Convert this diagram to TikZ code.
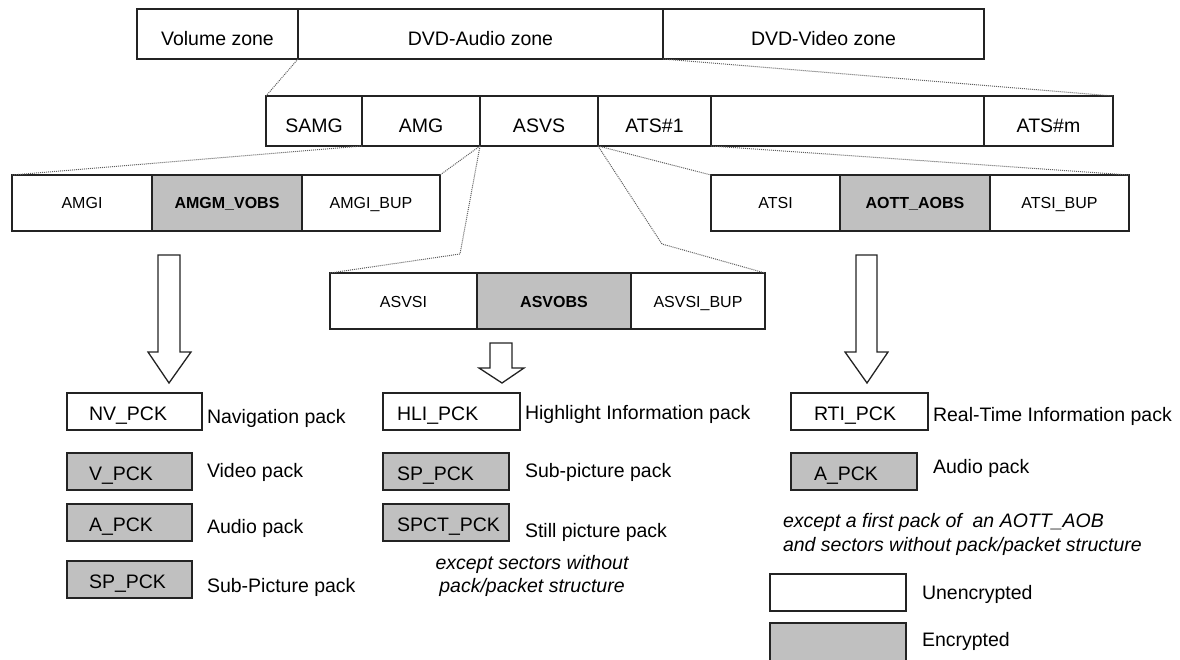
\documentclass[tikz,border=0pt]{standalone}
\usepackage{fontspec}
\setmainfont{Liberation Sans}
\usetikzlibrary{positioning}
\definecolor{encgray}{RGB}{192,192,192}
\definecolor{edge}{RGB}{35,35,35}
\definecolor{linkgray}{RGB}{95,95,95}

\begin{document}
\begin{tikzpicture}[x=1pt,y=-1pt,
  every node/.style={font=\fontsize{19.5}{23}\selectfont,inner sep=0pt,outer sep=0pt},
  cell/.style={draw=edge,line width=1.3pt,anchor=north west},
  zone/.style={cell,minimum height=50pt,text height=24pt,text depth=0pt},
  part/.style={cell,minimum height=56pt,text height=12pt,text depth=0pt,font=\fontsize{16}{19}\selectfont},
  encpart/.style={part,fill=encgray,font=\fontsize{16}{19}\selectfont\bfseries},
  pck/.style 2 args={cell,minimum height=37pt,text width=#1,align=left,
    text height=17pt,text depth=0pt,execute at begin node={\hspace*{#2}}},
  encfill/.style={fill=encgray},
  note/.style={font=\fontsize{19.5}{23}\selectfont\itshape},
  link/.style={densely dotted,draw=linkgray,line width=1pt},
  blockarrow/.style={draw=edge,line width=1.3pt,fill=white,line join=miter}]
\useasboundingbox (0,0) rectangle (1180,660);

% disc layout
\node[zone,minimum width=161pt] (vol) at (137,9) {Volume zone};
\node[zone,minimum width=365pt,right=0pt of vol] (daudio) {DVD-Audio zone};
\node[zone,minimum width=321pt,right=0pt of daudio] (dvideo) {DVD-Video zone};

% DVD-Audio zone
\node[zone,minimum width=96pt] (samg) at (266,96) {SAMG};
\node[zone,minimum width=118pt,right=0pt of samg] (amg) {AMG};
\node[zone,minimum width=118pt,right=0pt of amg] (asvs) {ASVS};
\node[zone,minimum width=113pt,right=0pt of asvs] (ats1) {ATS\#1};
\node[zone,minimum width=273pt,right=0pt of ats1] (atsmid) {};
\node[zone,minimum width=129pt,right=0pt of atsmid] (atsm) {ATS\#m};

% AMG, ATS, ASVS
\node[part,minimum width=140pt] (amgi) at (12,175) {AMGI};
\node[encpart,minimum width=150pt,right=0pt of amgi] (amgmvobs) {AMGM\_VOBS};
\node[part,minimum width=138pt,right=0pt of amgmvobs] (amgibup) {AMGI\_BUP};

\node[part,minimum width=129pt] (atsi) at (711,175) {ATSI};
\node[encpart,minimum width=150pt,right=0pt of atsi] (aottaobs) {AOTT\_AOBS};
\node[part,minimum width=139pt,right=0pt of aottaobs] (atsibup) {ATSI\_BUP};

\node[part,minimum width=147pt] (asvsi) at (330,273) {ASVSI};
\node[encpart,minimum width=154pt,right=0pt of asvsi] (asvobs) {ASVOBS};
\node[part,minimum width=134pt,right=0pt of asvobs] (asvsibup) {ASVSI\_BUP};

% zoom lines
\coordinate (bendl) at (460,254);
\coordinate (bendr) at (662,244);
\draw[link] (vol.south east) -- (samg.north west);
\draw[link] (daudio.south east) -- (atsm.north east);
\draw[link] (samg.south east) -- (amgi.north west);
\draw[link] (asvs.south west) -- (amgibup.north east);
\draw[link] (asvs.south west) -- (bendl) -- (asvsi.north west);
\draw[link] (asvs.south east) -- (bendr) -- (asvsibup.north east);
\draw[link] (ats1.south west) -- (atsi.north west);
\draw[link] (ats1.south east) -- (atsibup.north east);

% block arrows
\draw[blockarrow] (158,255) -- (180,255) -- (180,352) -- (191,352) -- (169,383) -- (148,352) -- (158,352) -- cycle;
\draw[blockarrow] (490,343) -- (512,343) -- (512,368) -- (524,368) -- (502,383) -- (479,368) -- (490,368) -- cycle;
\draw[blockarrow] (856,255) -- (877,255) -- (877,352) -- (888,352) -- (867,383) -- (845,352) -- (856,352) -- cycle;

% AMGM_VOBS packs
\node[pck={135pt}{22pt}] (nvpck) at (67,393) {NV\_PCK};
\node[pck={125pt}{22pt},encfill] (vpck) at (67,453) {V\_PCK};
\node[pck={125pt}{22pt},encfill] (apck) at (67,504) {A\_PCK};
\node[pck={125pt}{22pt},encfill] (sppck) at (67,561) {SP\_PCK};
\node[anchor=base west] (nvlbl) at (207,423) {Navigation pack};
\node[anchor=base west] (vlbl) at (207,477) {Video pack};
\node[anchor=base west] (albl) at (207,533) {Audio pack};
\node[anchor=base west] (splbl) at (207,592) {Sub-Picture pack};

% ASVOBS packs
\node[pck={137pt}{14pt}] (hlipck) at (383,393) {HLI\_PCK};
\node[pck={126pt}{14pt},encfill] (asppck) at (383,453) {SP\_PCK};
\node[pck={126pt}{14pt},encfill] (spctpck) at (383,504) {SPCT\_PCK};
\node[anchor=base west] (hlilbl) at (525,419) {Highlight Information pack};
\node[anchor=base west] (asplbl) at (525,477) {Sub-picture pack};
\node[anchor=base west] (spctlbl) at (525,537) {Still picture pack};
\node[note,align=center,anchor=north] (asvnote) at (532,555) {except sectors without\\pack/packet structure};

% AOTT_AOBS packs
\node[pck={137pt}{23pt}] (rtipck) at (791,393) {RTI\_PCK};
\node[pck={126pt}{23pt},encfill] (aapck) at (791,453) {A\_PCK};
\node[anchor=base west] (rtilbl) at (933,421) {Real-Time Information pack};
\node[anchor=base west] (aalbl) at (933,473) {Audio pack};
\node[note,align=left,anchor=north west,font=\fontsize{19.5}{24}\selectfont\itshape] (aotnote) at (783,513) {except a first pack of~ an AOTT\_AOB\\and sectors without pack/packet structure};

% legend
\node[cell,minimum width=136pt,minimum height=37pt] (keyplain) at (770,574) {};
\node[cell,encfill,minimum width=136pt,minimum height=38pt] (keyenc) at (770,623) {};
\node[anchor=base west] (plainlbl) at (922,599) {Unencrypted};
\node[anchor=base west] (enclbl) at (922,646) {Encrypted};
\end{tikzpicture}
\end{document}
